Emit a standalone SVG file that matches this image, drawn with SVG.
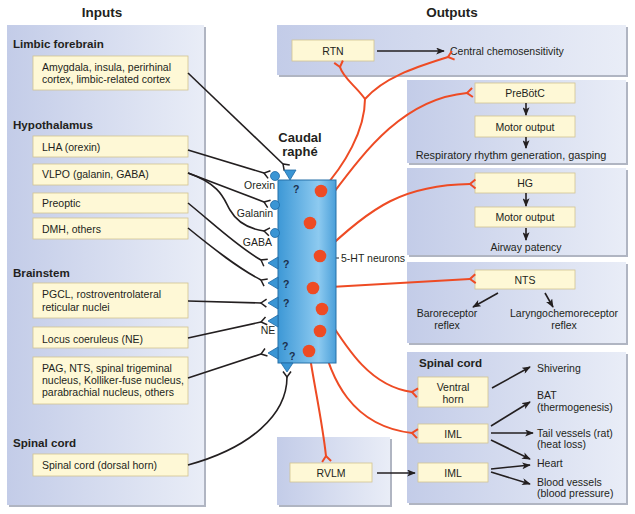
<svg xmlns="http://www.w3.org/2000/svg" width="635" height="514" viewBox="0 0 635 514">
<defs>
  <linearGradient id="panelGrad" x1="0" y1="0" x2="1" y2="0">
    <stop offset="0" stop-color="#c3cce8"/>
    <stop offset="1" stop-color="#e9edf7"/>
  </linearGradient>
  <linearGradient id="rapheGrad" x1="0" y1="0" x2="1" y2="0">
    <stop offset="0" stop-color="#3d98d6"/>
    <stop offset="0.7" stop-color="#8dcaf0"/>
    <stop offset="1" stop-color="#4a9fd9"/>
  </linearGradient>
  <marker id="arrow" viewBox="0 0 10 8" refX="9" refY="4" markerWidth="9" markerHeight="7" markerUnits="userSpaceOnUse" orient="auto">
    <path d="M0,0 L10,4 L0,8 L2.5,4 z" fill="#231f20"/>
  </marker>
  <marker id="forkR" viewBox="-2 -7 10 14" refX="0" refY="0" markerWidth="10" markerHeight="14" markerUnits="userSpaceOnUse" orient="auto">
    <path d="M5.5,-4.5 L0,0 L5.5,4.5" fill="none" stroke="#ee4b24" stroke-width="2"/>
  </marker>
  <marker id="forkK" viewBox="-2 -7 10 14" refX="0" refY="0" markerWidth="10" markerHeight="14" markerUnits="userSpaceOnUse" orient="auto">
    <path d="M5.5,-4 L0,0 L5.5,4" fill="none" stroke="#231f20" stroke-width="1.5"/>
  </marker>
</defs>
<style>
  .panel { fill: url(#panelGrad); }
  .shadow { fill: #8e95a8; opacity: 0.7; }
  .box { fill: #fef8d6; stroke: #d3c491; stroke-width: 0.8; }
  .t { font-family: "Liberation Sans", Arial, sans-serif; font-size: 10.5px; fill: #231f20; }
  .c { text-anchor: middle; }
  .h { font-family: "Liberation Sans", Arial, sans-serif; font-size: 11.6px; font-weight: bold; fill: #231f20; }
  .title { font-family: "Liberation Sans", Arial, sans-serif; font-size: 13.5px; font-weight: bold; fill: #231f20; text-anchor: middle; }
  .q { font-family: "Liberation Sans", Arial, sans-serif; font-size: 10.5px; font-weight: bold; fill: #1c2f4d; }
  .blk { fill: none; stroke: #231f20; stroke-width: 1.6; }
  .red { fill: none; stroke: #ee4b24; stroke-width: 2; }
  .term { fill: #3a95d4; stroke: #1f6aa5; stroke-width: 0.8; }
  .ht { fill: #ee4b24; }
</style>

<rect width="635" height="514" fill="#ffffff"/>

<!-- Titles -->
<text class="title" x="102" y="17">Inputs</text>
<text class="title" x="452" y="17">Outputs</text>

<!-- Panels -->
<g id="panel-inputs">
  <rect class="shadow" x="9" y="27" width="197" height="480"/>
  <rect class="panel" x="7" y="25" width="197" height="480"/>
  <text class="h" x="13" y="48">Limbic forebrain</text>
  <text class="h" x="13" y="129">Hypothalamus</text>
  <text class="h" x="13" y="277">Brainstem</text>
  <text class="h" x="13" y="447">Spinal cord</text>
</g>
<g id="panel-rtn">
  <rect class="shadow" x="279" y="27" width="349" height="50"/>
  <rect class="panel" x="277" y="25" width="349" height="50"/>
</g>
<g id="panel-prebotc">
  <rect class="shadow" x="409" y="82" width="219" height="83"/>
  <rect class="panel" x="407" y="80" width="219" height="83"/>
</g>
<g id="panel-hg">
  <rect class="shadow" x="409" y="170" width="219" height="87"/>
  <rect class="panel" x="407" y="168" width="219" height="87"/>
</g>
<g id="panel-nts">
  <rect class="shadow" x="409" y="264" width="219" height="81"/>
  <rect class="panel" x="407" y="262" width="219" height="81"/>
</g>
<g id="panel-spinal">
  <rect class="shadow" x="409" y="354" width="219" height="151"/>
  <rect class="panel" x="407" y="352" width="219" height="151"/>
  <text class="h" x="419" y="367">Spinal cord</text>
</g>
<g id="panel-rvlm">
  <rect class="shadow" x="279" y="439" width="113" height="68"/>
  <rect class="panel" x="277" y="437" width="113" height="68"/>
</g>

<!-- Input nodes -->
<g id="amygdala">
  <rect class="box" x="33" y="56" width="155" height="34"/>
  <text class="t" x="42" y="71">Amygdala, insula, perirhinal</text>
  <text class="t" x="42" y="83">cortex, limbic-related cortex</text>
</g>
<g id="lha">
  <rect class="box" x="33" y="136" width="155" height="21"/>
  <text class="t" x="42" y="151">LHA (orexin)</text>
</g>
<g id="vlpo">
  <rect class="box" x="33" y="164" width="155" height="21"/>
  <text class="t" x="42" y="178">VLPO (galanin, GABA)</text>
</g>
<g id="preoptic">
  <rect class="box" x="33" y="193" width="155" height="20"/>
  <text class="t" x="42" y="207">Preoptic</text>
</g>
<g id="dmh">
  <rect class="box" x="33" y="218" width="155" height="21"/>
  <text class="t" x="42" y="233">DMH, others</text>
</g>
<g id="pgcl">
  <rect class="box" x="33" y="283" width="155" height="35"/>
  <text class="t" x="42" y="298">PGCL, rostroventrolateral</text>
  <text class="t" x="42" y="311">reticular nuclei</text>
</g>
<g id="locus">
  <rect class="box" x="33" y="327" width="155" height="21"/>
  <text class="t" x="42" y="343">Locus coeruleus (NE)</text>
</g>
<g id="pag">
  <rect class="box" x="33" y="357" width="155" height="47"/>
  <text class="t" x="42" y="372">PAG, NTS, spinal trigeminal</text>
  <text class="t" x="42" y="384">nucleus, Kolliker-fuse nucleus,</text>
  <text class="t" x="42" y="396">parabrachial nucleus, others</text>
</g>
<g id="spinal-dorsal">
  <rect class="box" x="33" y="454" width="155" height="22"/>
  <text class="t" x="42" y="469">Spinal cord (dorsal horn)</text>
</g>

<!-- Output nodes -->
<g id="rtn">
  <rect class="box" x="292" y="40" width="82" height="21"/>
  <text class="t c" x="333" y="55">RTN</text>
</g>
<g id="central-chemo">
  <text class="t" x="450" y="55">Central chemosensitivity</text>
</g>
<g id="prebotc">
  <rect class="box" x="475" y="83" width="100" height="20"/>
  <text class="t c" x="525" y="97">PreBötC</text>
</g>
<g id="motor1">
  <rect class="box" x="475" y="116" width="100" height="21"/>
  <text class="t c" x="525" y="131">Motor output</text>
</g>
<g id="resp-rhythm">
  <text class="t c" x="511" y="159" style="font-size:10.9px">Respiratory rhythm generation, gasping</text>
</g>
<g id="hg">
  <rect class="box" x="475" y="173" width="100" height="20"/>
  <text class="t c" x="525" y="187">HG</text>
</g>
<g id="motor2">
  <rect class="box" x="475" y="207" width="100" height="20"/>
  <text class="t c" x="525" y="221">Motor output</text>
</g>
<g id="airway">
  <text class="t c" x="526" y="251">Airway patency</text>
</g>
<g id="nts">
  <rect class="box" x="475" y="270" width="100" height="19"/>
  <text class="t c" x="525" y="284">NTS</text>
</g>
<g id="baro">
  <text class="t c" x="447" y="317">Baroreceptor</text>
  <text class="t c" x="447" y="329">reflex</text>
</g>
<g id="laryngo">
  <text class="t c" x="564" y="317">Laryngochemoreceptor</text>
  <text class="t c" x="564" y="329">reflex</text>
</g>
<g id="ventral-horn">
  <rect class="box" x="418" y="377" width="70" height="30"/>
  <text class="t c" x="453" y="391">Ventral</text>
  <text class="t c" x="453" y="403">horn</text>
</g>
<g id="iml1">
  <rect class="box" x="418" y="424" width="70" height="19"/>
  <text class="t c" x="453" y="438">IML</text>
</g>
<g id="iml2">
  <rect class="box" x="418" y="463" width="70" height="19"/>
  <text class="t c" x="453" y="477">IML</text>
</g>
<g id="rvlm">
  <rect class="box" x="290" y="463" width="82" height="19"/>
  <text class="t c" x="331" y="477">RVLM</text>
</g>
<g id="shivering"><text class="t" x="537" y="372">Shivering</text></g>
<g id="bat">
  <text class="t" x="537" y="399">BAT</text>
  <text class="t" x="537" y="411">(thermogenesis)</text>
</g>
<g id="tail">
  <text class="t" x="537" y="437">Tail vessels (rat)</text>
  <text class="t" x="537" y="448">(heat loss)</text>
</g>
<g id="heart"><text class="t" x="537" y="467">Heart</text></g>
<g id="blood">
  <text class="t" x="537" y="486">Blood vessels</text>
  <text class="t" x="537" y="497">(blood pressure)</text>
</g>

<!-- Connectors -->
<g id="connectors">
  <!-- inputs -->
  <path class="blk" marker-end="url(#forkK)" d="M188,73 L283,164"/>
  <path class="blk" marker-end="url(#forkK)" d="M188,150 L264,173"/>
  <path class="blk" marker-end="url(#forkK)" d="M188,173 L264,202"/>
  <path class="blk" marker-end="url(#forkK)" d="M188,173 C222,185 224,200 230,210 C238,224 250,229 264,231"/>
  <path class="blk" marker-end="url(#forkK)" d="M188,203 C215,225 238,247 261,260"/>
  <path class="blk" marker-end="url(#forkK)" d="M188,228 C215,250 238,268 261,280"/>
  <path class="blk" marker-end="url(#forkK)" d="M188,301 L261,303"/>
  <path class="blk" marker-end="url(#forkK)" d="M188,338 L261,322"/>
  <path class="blk" marker-end="url(#forkK)" d="M188,378 L261,354"/>
  <path class="blk" marker-end="url(#forkK)" d="M188,465 C250,448 287,415 287,377"/>

  <!-- outputs black -->
  <path class="blk" marker-end="url(#arrow)" d="M377,51 L444,51"/>
  <path class="blk" marker-end="url(#arrow)" d="M526,103 L526,115"/>
  <path class="blk" marker-end="url(#arrow)" d="M526,137 L526,148"/>
  <path class="blk" marker-end="url(#arrow)" d="M526,193 L526,206"/>
  <path class="blk" marker-end="url(#arrow)" d="M526,228 L526,240"/>
  <path class="blk" marker-end="url(#arrow)" d="M498,293 L473,307"/>
  <path class="blk" marker-end="url(#arrow)" d="M545,293 L553,307"/>
  <path class="blk" marker-end="url(#arrow)" d="M492,388 L530,367"/>
  <path class="blk" marker-end="url(#arrow)" d="M491,426 L530,402"/>
  <path class="blk" marker-end="url(#arrow)" d="M491,433 L533,433"/>
  <path class="blk" marker-end="url(#arrow)" d="M491,440 L530,459"/>
  <path class="blk" marker-end="url(#arrow)" d="M491,469 L530,465"/>
  <path class="blk" marker-end="url(#arrow)" d="M491,472 L530,484"/>
  <path class="blk" marker-end="url(#arrow)" d="M377,473 L415,473"/>

  <!-- 5-HT label tick -->
  <path d="M326,258 L339,258" stroke="#231f20" stroke-width="1" fill="none"/>

  <!-- red projections -->
  <path class="red" d="M321,191 C345,165 365,130 365,99"/>
  <path class="red" marker-end="url(#forkR)" d="M365,99 C356,86 343,78 340,67"/>
  <path class="red" marker-end="url(#forkR)" d="M365,99 C385,76 420,66 448,57"/>
  <path class="red" marker-end="url(#forkR)" d="M310,223 C350,175 390,100 467,93"/>
  <path class="red" marker-end="url(#forkR)" d="M320,256 C372,205 405,185 470,184"/>
  <path class="red" marker-end="url(#forkR)" d="M313,288 L470,279"/>
  <path class="red" marker-end="url(#forkR)" d="M322,309 C345,345 368,386 412,392"/>
  <path class="red" marker-end="url(#forkR)" d="M320,331 C330,380 352,426 412,433"/>
  <path class="red" marker-end="url(#forkR)" d="M309,351 C315,390 322,420 326,456"/>
</g>

<!-- Caudal raphe -->
<g id="raphe">
  <text class="title" x="300" y="142" style="font-size:13px">Caudal</text>
  <text class="title" x="300" y="156" style="font-size:13px">raphé</text>
  <rect x="278" y="180" width="58" height="183" fill="url(#rapheGrad)" stroke="#2670a8" stroke-width="1"/>
  <!-- terminals -->
  <polygon class="term" points="284,170 296,170 290,180"/>
  <circle class="term" cx="275" cy="176" r="4.5"/>
  <circle class="term" cx="275" cy="205" r="4.5"/>
  <circle class="term" cx="275" cy="233" r="4.5"/>
  <polygon class="term" points="268,263 278,257 278,269"/>
  <polygon class="term" points="268,283 278,277 278,289"/>
  <polygon class="term" points="268,303 278,297 278,309"/>
  <polygon class="term" points="268,321 278,315 278,327"/>
  <polygon class="term" points="268,353 278,347 278,359"/>
  <polygon class="term" points="281,363 293,363 287,372"/>
  <!-- question marks -->
  <text class="q" x="293" y="193">?</text>
  <text class="q" x="283" y="268">?</text>
  <text class="q" x="283" y="288">?</text>
  <text class="q" x="283" y="307">?</text>
  <text class="q" x="282" y="350">?</text>
  <text class="q" x="289" y="360">?</text>
  <!-- labels -->
  <text class="t" x="275" y="189" text-anchor="end">Orexin</text>
  <text class="t" x="273" y="217" text-anchor="end">Galanin</text>
  <text class="t" x="272" y="246" text-anchor="end">GABA</text>
  <text class="t c" x="268" y="334">NE</text>
  <!-- 5-HT neurons -->
  <circle class="ht" cx="321" cy="191" r="6.3"/>
  <circle class="ht" cx="310" cy="223" r="6.3"/>
  <circle class="ht" cx="320" cy="256" r="6.3"/>
  <circle class="ht" cx="313" cy="288" r="6.3"/>
  <circle class="ht" cx="322" cy="309" r="6.3"/>
  <circle class="ht" cx="320" cy="331" r="6.3"/>
  <circle class="ht" cx="309" cy="351" r="6.3"/>
  <text class="t" x="341" y="262">5-HT neurons</text>
</g>
</svg>
